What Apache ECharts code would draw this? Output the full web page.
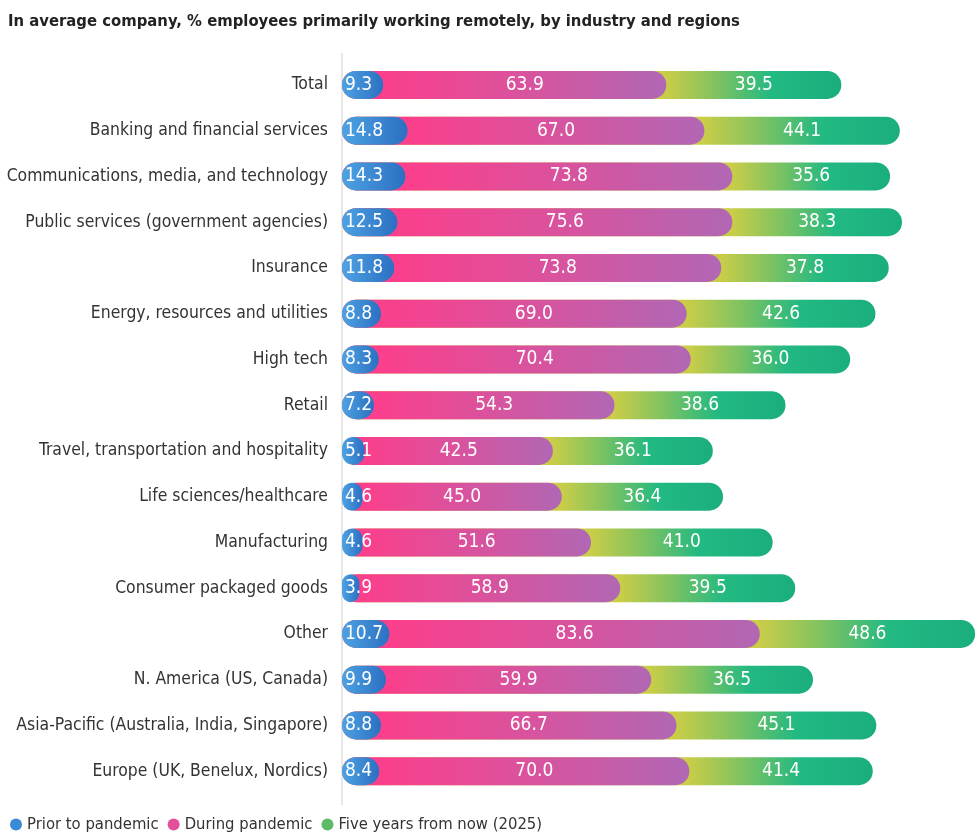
<!DOCTYPE html>
<html>
<head>
<meta charset="utf-8">
<script src="https://cdn.jsdelivr.net/npm/echarts@6/dist/echarts.min.js"></script>
<style>
html,body{margin:0;padding:0;background:#fff;}
#c{width:980px;height:837px;}
</style>
</head>
<body>
<div id="c"></div>
<script>
const titleText = 'In average company, % employees primarily working remotely, by industry and regions';
const categories = [
  'Total',
  'Banking and financial services',
  'Communications, media, and technology',
  'Public services (government agencies)',
  'Insurance',
  'Energy, resources and utilities',
  'High tech',
  'Retail',
  'Travel, transportation and hospitality',
  'Life sciences/healthcare',
  'Manufacturing',
  'Consumer packaged goods',
  'Other',
  'N. America (US, Canada)',
  'Asia-Pacific (Australia, India, Singapore)',
  'Europe (UK, Benelux, Nordics)'
];
const seriesNames = ['Prior to pandemic', 'During pandemic', 'Five years from now (2025)'];
const prior = [9.3, 14.8, 14.3, 12.5, 11.8, 8.8, 8.3, 7.2, 5.1, 4.6, 4.6, 3.9, 10.7, 9.9, 8.8, 8.4];
const during = [63.9, 67.0, 73.8, 75.6, 73.8, 69.0, 70.4, 54.3, 42.5, 45.0, 51.6, 58.9, 83.6, 59.9, 66.7, 70.0];
const fiveYears = [39.5, 44.1, 35.6, 38.3, 37.8, 42.6, 36.0, 38.6, 36.1, 36.4, 41.0, 39.5, 48.6, 36.5, 45.1, 41.4];

const FONT = '"Liberation Sans Narrow", "DejaVu Sans Condensed", "Noto Sans", sans-serif';
const G = echarts.graphic.LinearGradient;

function grad(start, stops) {
  // start = fraction of the bar hidden behind the previous segment
  return new G(0, 0, 1, 0, stops.map(s => ({offset: start + (1 - start) * s[0], color: s[1]})));
}

const blueData = prior.map(v => ({
  value: v,
  itemStyle: {color: new G(0, 0, 1, 0, [{offset: 0, color: '#4da3e3'}, {offset: 1, color: '#2c6fc2'}])}
}));
const pinkData = during.map((v, i) => {
  const cum = prior[i] + v;
  const f = prior[i] / cum;
  return {value: cum, itemStyle: {color: grad(f, [[0, '#fb3f8c'], [0.45, '#dc519c'], [1, '#b167b4']])}};
});
const greenData = fiveYears.map((v, i) => {
  const cum = prior[i] + during[i] + v;
  const f = (prior[i] + during[i]) / cum;
  return {value: cum, itemStyle: {color: grad(f, [[0, '#c9cd48'], [0.3, '#7cc262'], [0.6, '#22b982'], [1, '#1aae7d']])}};
});

const labelBase = {show: true, color: '#ffffff', fontSize: 19, fontFamily: FONT};

const chart = echarts.init(document.getElementById('c'));
chart.setOption({
  animation: false,
  backgroundColor: '#ffffff',
  title: {
    text: titleText, left: 3, top: 8,
    textStyle: {fontSize: 16.5, fontWeight: 'bold', color: '#222', fontFamily: FONT}
  },
  legend: {
    left: 5, bottom: -1, icon: 'circle', itemWidth: 12, itemHeight: 12, itemGap: 9,
    textStyle: {fontSize: 16.5, color: '#333', fontFamily: FONT},
    data: [
      {name: seriesNames[0], itemStyle: {color: '#3a8ad8'}},
      {name: seriesNames[1], itemStyle: {color: '#e2509b'}},
      {name: seriesNames[2], itemStyle: {color: '#5dba66'}}
    ]
  },
  graphic: [{
    type: 'line', shape: {x1: 342, y1: 53, x2: 342, y2: 805},
    style: {stroke: '#cfcfcf', lineWidth: 1}, z: 0
  }],
  grid: {left: 342, right: 0, top: 62, bottom: 43},
  xAxis: {
    type: 'value', min: 0, max: 144, show: false
  },
  yAxis: {
    type: 'category', data: categories, inverse: true,
    axisLine: {show: false}, axisTick: {show: false},
    axisLabel: {fontSize: 17.4, color: '#333', fontFamily: FONT, margin: 14}
  },
  series: [
    {name: seriesNames[2], type: 'bar', data: greenData, barWidth: 28, barGap: '-100%', z: 2,
     itemStyle: {borderRadius: 14}, silent: true},
    {name: seriesNames[1], type: 'bar', data: pinkData, barWidth: 28, barGap: '-100%', z: 3,
     itemStyle: {borderRadius: 14}, silent: true},
    {name: seriesNames[0], type: 'bar', data: blueData, barWidth: 28, barGap: '-100%', z: 4,
     itemStyle: {borderRadius: 14}, silent: true},
    {name: 'lbl0', type: 'bar', stack: 'lbl', data: prior, barWidth: 28, barGap: '-100%', z: 5,
     itemStyle: {color: 'rgba(0,0,0,0)'}, silent: true,
     label: Object.assign({}, labelBase, {position: 'insideLeft', distance: 3, formatter: p => p.value.toFixed(1)})},
    {name: 'lbl1', type: 'bar', stack: 'lbl', data: during, barWidth: 28, barGap: '-100%', z: 5,
     itemStyle: {color: 'rgba(0,0,0,0)'}, silent: true,
     label: Object.assign({}, labelBase, {position: 'inside', formatter: p => p.value.toFixed(1)})},
    {name: 'lbl2', type: 'bar', stack: 'lbl', data: fiveYears, barWidth: 28, barGap: '-100%', z: 5,
     itemStyle: {color: 'rgba(0,0,0,0)'}, silent: true,
     label: Object.assign({}, labelBase, {position: 'inside', formatter: p => p.value.toFixed(1)})}
  ]
});
</script>
</body>
</html>
